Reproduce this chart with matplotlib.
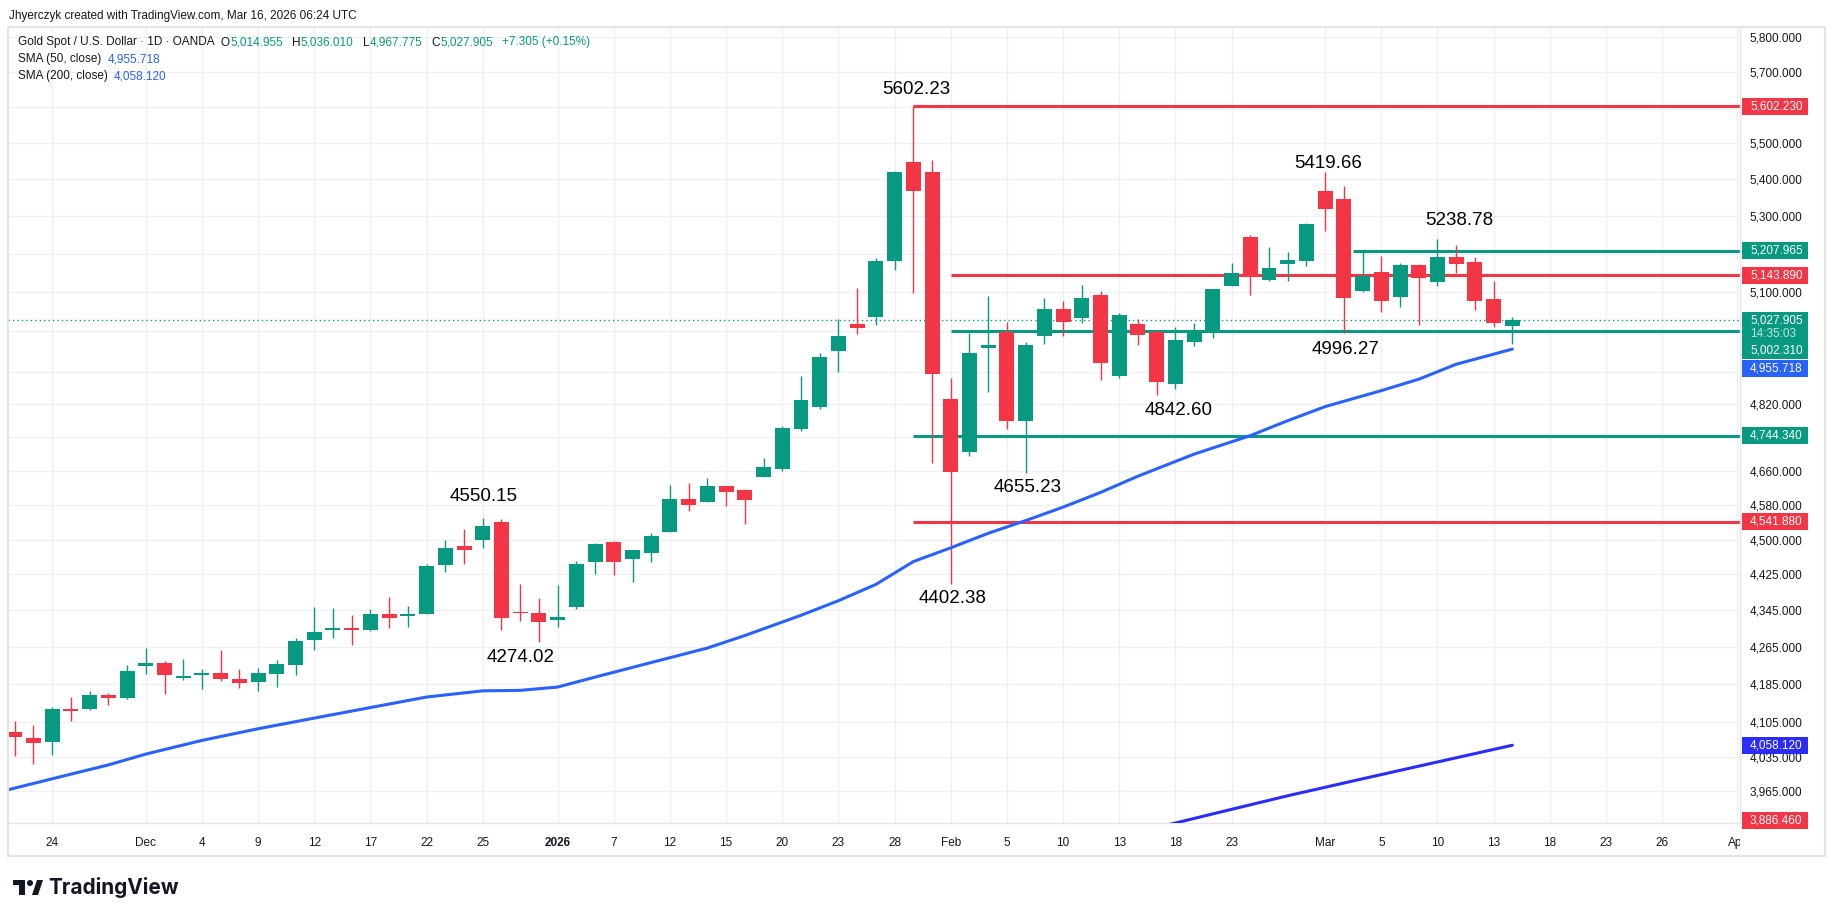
import matplotlib
matplotlib.use("Agg")
import matplotlib.pyplot as plt
from matplotlib import ticker
from matplotlib.patches import Rectangle, Polygon, Ellipse
from matplotlib.transforms import Bbox, TransformedBbox

plt.rcParams["font.family"] = ["Liberation Sans", "DejaVu Sans"]

# daily OHLC, Nov 20 2025 -> Mar 16 2026 (bar index 0..80)
opens = [4085, 4072, 4064, 4134, 4132, 4162, 4157, 4223, 4231, 4199,
         4204, 4208, 4197, 4189, 4206, 4225, 4280, 4302, 4305, 4300,
         4336, 4332, 4336, 4445, 4488, 4500, 4542, 4340, 4339, 4323,
         4351, 4452, 4497, 4458, 4472, 4518, 4595, 4588, 4624, 4616,
         4645, 4664, 4760, 4813, 4951, 5018, 5036, 5180, 5446, 5418,
         4832, 4704, 4958, 4998, 4778, 4988, 5057, 5033, 5094, 4888,
         5018, 4998, 4870, 4974, 5000, 5116, 5245, 5132, 5172, 5180,
         5368, 5345, 5103, 5151, 5088, 5171, 5126, 5191, 5179, 5082,
         5014.955]
highs = [4108, 4100, 4138, 4158, 4171, 4167, 4226, 4262, 4235, 4239,
         4218, 4258, 4217, 4220, 4237, 4284, 4351, 4349, 4333, 4346,
         4373, 4353, 4446, 4500, 4526, 4550.15, 4549, 4402, 4371, 4400,
         4454, 4495, 4499, 4479, 4516, 4628, 4633, 4643, 4626, 4619,
         4691, 4768, 4889, 4947, 5032, 5110, 5190, 5422, 5602.23, 5452,
         4885, 4995, 5091, 5024, 4973, 5084, 5077, 5118, 5102, 5047,
         5032, 5004, 5012, 5022, 5107, 5176, 5250, 5218, 5204, 5281,
         5419.66, 5381, 5204, 5195, 5176, 5173, 5238.78, 5224, 5191, 5128,
         5036.010]
lows = [4036, 4020, 4039, 4109, 4130, 4142, 4153, 4206, 4165, 4193,
        4174, 4191, 4176, 4170, 4180, 4204, 4257, 4284, 4269, 4299,
        4305, 4308, 4336, 4429, 4447, 4483, 4300, 4321, 4274.02, 4308,
        4347, 4424, 4422, 4407, 4452, 4518, 4567, 4588, 4578, 4537,
        4645, 4659, 4756, 4808, 4900, 4994, 5016, 5158, 5098, 4680,
        4402.38, 4696, 4849, 4760, 4655.23, 4968, 4988, 5021, 4880, 4885,
        4966, 4842.60, 4856, 4963, 4983, 5116, 5092, 5129, 5129, 5169,
        5260, 4996.27, 5100, 5050, 5063, 5016, 5116, 5149, 5055, 5011,
        4967.775]
closes = [4074, 4062, 4132, 4128, 4162, 4155, 4214, 4231, 4204, 4201,
          4208, 4196, 4187, 4208, 4227, 4277, 4297, 4303, 4300, 4336,
          4328, 4336, 4442, 4483, 4477, 4532, 4328, 4337, 4319, 4329,
          4447, 4492, 4452, 4477, 4509, 4595, 4581, 4626, 4612, 4593,
          4669, 4763, 4829, 4937, 4988, 5008, 5181, 5418, 5368, 4895,
          4658, 4947, 4965, 4780, 4965, 5057, 5023, 5084, 4920, 5042,
          4991, 4875, 4978, 5000, 5107, 5149, 5142, 5162, 5184, 5278,
          5318, 5084, 5142, 5077, 5171, 5136, 5191, 5174, 5077, 5021,
          5027.905]

sma50_bars = [-1, 2, 5, 7, 10, 13, 16, 19, 22, 25, 27, 29, 31, 34, 37, 39, 42,
              44, 46, 48, 50, 52, 54, 56, 58, 60, 63, 66, 68, 70, 73, 75, 77, 80]
sma50_vals = [3962, 3990, 4018, 4040, 4068, 4092, 4114, 4136, 4158, 4171, 4172,
              4179, 4200, 4231, 4262, 4289, 4333, 4365, 4401, 4452, 4483, 4516,
              4545, 4576, 4610, 4648, 4700, 4744, 4780, 4814, 4853, 4881, 4918,
              4955.718]
sma200_bars = [61, 64, 68, 72, 76, 80]
sma200_vals = [3893, 3920, 3956, 3990, 4024, 4058.12]

tick_bars = [2, 7, 10, 13, 16, 19, 22, 25, 29, 32, 35, 38, 41, 44, 47, 50, 53,
             56, 59, 62, 65, 70, 73, 76, 79, 82, 85, 88, 92]
tick_labels = ["24", "Dec", "4", "9", "12", "17", "22", "25", "2026", "7", "12",
               "15", "20", "23", "28", "Feb", "5", "10", "13", "18", "23", "Mar",
               "5", "10", "13", "18", "23", "26", "Apr"]

price_ticks = [3965, 4035, 4105, 4185, 4265, 4345, 4425, 4500, 4580, 4660, 4740,
               4820, 4900, 5000, 5100, 5200, 5300, 5400, 5500, 5600, 5700, 5800]
hidden_ticks = [4740, 4900, 5000, 5200, 5600]

# horizontal rays drawn on the chart
level_vals = [5602.23, 5207.965, 5143.89, 5002.31, 4744.34, 4541.88, 3886.46]
level_start = [48, 71.5, 50, 50, 48, 48, 48]
level_kind = ["res", "sup", "res", "sup", "sup", "res", "res"]

# swing highs / lows written on the chart
pivot_bars = [48, 70, 76, 71, 61, 54, 50, 25, 28]
pivot_vals = [5602.23, 5419.66, 5238.78, 4996.27, 4842.60, 4655.23, 4402.38,
              4550.15, 4274.02]

last_price = 5027.905
sma50_last = 4955.718
sma200_last = 4058.12

# ---- style ----
W, H = 1835, 917
GREEN = "#089981"
RED = "#F23645"
BLUE = "#2962FF"
BLUE2 = "#2B2BFA"
TEXT = "#131722"
GRID = "#EEF0F4"
FRAME = "#E3E5EA"
label_offsets = [(3, -16.5), (3, -8), (21.6, -18.3), (2, 16.3), (21.7, 15.7),
                 (2, 14), (2, 14.3), (0.6, -21.7), (-18, 15.3)]


def fx(px):
    return px / W


def fy(py):
    return 1 - py / H


fig = plt.figure(figsize=(W / 100, H / 100), dpi=100)
fig.patch.set_facecolor("white")
ax = fig.add_axes([fx(8), fy(823), fx(1740 - 8), (823 - 27) / H])

ax.set_yscale("log")
ax.set_xlim(-0.36, 92.16)
ax.set_ylim(3902, 5830)

# grid
for t in tick_bars:
    ax.axvline(t, color=GRID, lw=1, zorder=0)
for p in price_ticks:
    ax.axhline(p, color=GRID, lw=1, zorder=0)

# candles
xs = list(range(len(opens)))
cols = [GREEN if c >= o else RED for o, c in zip(opens, closes)]
ax.vlines(xs, lows, highs, colors=cols, lw=1.0, zorder=3)
bottoms = [min(o, c) for o, c in zip(opens, closes)]
heights = [max(abs(c - o), 3) for o, c in zip(opens, closes)]
ax.bar(xs, heights, bottom=bottoms, width=0.8, color=cols, lw=0, zorder=4)

# moving averages
ax.plot(sma50_bars, sma50_vals, color=BLUE, lw=2.2, zorder=5,
        solid_capstyle="round")
ax.plot(sma200_bars, sma200_vals, color=BLUE2, lw=2.2, zorder=5,
        solid_capstyle="round")

# levels
for v, s, k in zip(level_vals, level_start, level_kind):
    ax.hlines(v, s, 93, color=RED if k == "res" else GREEN, lw=2.2, zorder=2)
ax.axhline(last_price, color=GREEN, lw=1, ls=(0, (1, 2.2)), zorder=1)

# pivot labels
for b, v, (dx, dy) in zip(pivot_bars, pivot_vals, label_offsets):
    ax.annotate(f"{v:.2f}", (b, v), xytext=(dx, -dy), textcoords="offset pixels",
                ha="center", va="center", fontsize=13.5, color="black", zorder=6)

# axes
ax.yaxis.tick_right()
ax.yaxis.set_major_locator(ticker.FixedLocator(price_ticks))
ax.yaxis.set_minor_locator(ticker.NullLocator())
ax.yaxis.set_major_formatter(ticker.FixedFormatter(
    ["" if p in hidden_ticks else f"{p:,.3f}" for p in price_ticks]))
ax.yaxis.set_minor_formatter(ticker.NullFormatter())
ax.tick_params(axis="y", length=0, pad=7, labelsize=8.5, labelcolor=TEXT)
ax.set_xticks(tick_bars)
ax.set_xticklabels(tick_labels)
ax.tick_params(axis="x", length=0, pad=10, labelsize=8.5, labelcolor=TEXT)
clip = TransformedBbox(Bbox([[0, 0], [fx(1740), 1]]), fig.transFigure)
for lab in ax.get_xticklabels():
    if lab.get_text() == "2026":
        lab.set_fontweight("bold")
    lab.set_clip_box(clip)
    lab.set_clip_on(True)
for s in ["top", "left"]:
    ax.spines[s].set_visible(False)
for s in ["right", "bottom"]:
    ax.spines[s].set_color(FRAME)
    ax.spines[s].set_linewidth(1)

fig.add_artist(Rectangle((fx(8), fy(856)), fx(1825 - 8), (856 - 27) / H,
                         transform=fig.transFigure, fill=False, ec=FRAME, lw=1.5))


# price scale badges
def price_py(v):
    return H - ax.transData.transform((0, v))[1]


def badge(py_top, h, color):
    fig.add_artist(Rectangle((fx(1742), fy(py_top + h)), fx(66), h / H,
                             transform=fig.transFigure, color=color, lw=0,
                             zorder=5))


def badge_text(py, s, color="white"):
    fig.text(fx(1750), fy(py), s, color=color, fontsize=8.5, va="center",
             ha="left", zorder=6)


for v, k in zip(level_vals, level_kind):
    if v == 5002.31:
        continue
    py = min(price_py(v), 820.5)
    badge(py - 8.5, 17, RED if k == "res" else GREEN)
    badge_text(py, f"{v:,.3f}")

py = price_py(sma200_last)
badge(py - 8.5, 17, BLUE2)
badge_text(py, f"{sma200_last:,.3f}")

py = price_py(last_price)
badge(py - 8.5, 47, GREEN)
badge_text(py, f"{last_price:,.3f}")
badge_text(py + 13.5, "14:35:03", "#BFE6DE")
badge_text(py + 30, f"{5002.31:,.3f}")
badge(py + 39.5, 17, BLUE)
badge_text(py + 48, f"{sma50_last:,.3f}")

# header and legend
fig.text(fx(9), fy(16.5), "Jhyerczyk created with TradingView.com, Mar 16, 2026 06:24 UTC",
         fontsize=8.5, color=TEXT, va="center")

fig.canvas.draw()
rend = fig.canvas.get_renderer()


def text_row(x, y, pieces):
    for s, c, gap in pieces:
        t = fig.text(fx(x), fy(y), s, color=c, fontsize=8.5, va="center", ha="left")
        x += t.get_window_extent(rend).width + gap


text_row(18, 42.5, [("Gold Spot / U.S. Dollar · 1D · OANDA", TEXT, 6),
                    ("O", TEXT, 0.5), (f"{opens[-1]:,.3f}", GREEN, 9),
                    ("H", TEXT, 0.5), (f"{highs[-1]:,.3f}", GREEN, 9),
                    ("L", TEXT, 0.5), (f"{lows[-1]:,.3f}", GREEN, 9),
                    ("C", TEXT, 0.5), (f"{closes[-1]:,.3f}", GREEN, 9),
                    ("+7.305 (+0.15%)", GREEN, 0)])
text_row(18, 59, [("SMA (50, close)", TEXT, 6), (f"{sma50_last:,.3f}", BLUE, 0)])
text_row(18, 76.5, [("SMA (200, close)", TEXT, 6), (f"{sma200_last:,.3f}", BLUE, 0)])

# TradingView logo
fig.add_artist(Rectangle((fx(13), fy(885)), fx(12), 5 / H, transform=fig.transFigure,
                         color=TEXT, lw=0))
fig.add_artist(Rectangle((fx(19), fy(895)), fx(6), 15 / H, transform=fig.transFigure,
                         color=TEXT, lw=0))
fig.add_artist(Ellipse((fx(30), fy(883)), fx(6), 6 / H, transform=fig.transFigure,
                       color=TEXT, lw=0))
fig.add_artist(Polygon([(fx(32), fy(895)), (fx(37), fy(880)), (fx(43), fy(880)),
                        (fx(38), fy(895))], transform=fig.transFigure, color=TEXT,
                       lw=0))
fig.text(fx(48), fy(887), "TradingView", fontsize=15, fontweight="bold",
         family=["Inter", "DejaVu Sans"], color=TEXT, va="center")

fig.savefig("out.png", dpi=100, facecolor="white")
